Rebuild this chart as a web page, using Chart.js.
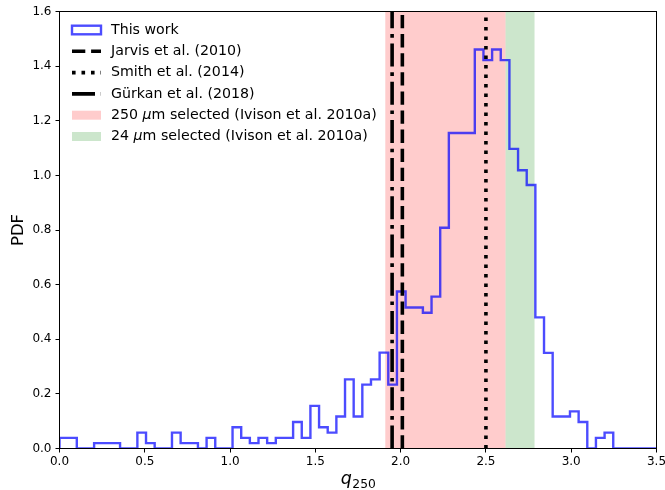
<!DOCTYPE html>
<html>
<head>
<meta charset="utf-8">
<script src="https://cdn.jsdelivr.net/npm/chart.js@4.4.0/dist/chart.umd.min.js"></script>
<style>
html, body { margin: 0; padding: 0; background: #fff; }
</style>
</head>
<body>
<canvas id="myChart" width="665" height="490"></canvas>
<script>
// histogram: 69 bins between 0 and 3.5
var binLo = 0.0, binHi = 3.5, nBins = 69;
var pdf = [0.039, 0.039, 0, 0, 0.0195, 0.0195, 0.0195, 0, 0, 0.058,
           0.0195, 0, 0, 0.058, 0.0195, 0.0195, 0, 0.039, 0, 0,
           0.078, 0.039, 0.0195, 0.039, 0.0195, 0.039, 0.039, 0.097, 0.039, 0.156,
           0.078, 0.058, 0.117, 0.253, 0.117, 0.234, 0.253, 0.351, 0.234, 0.575,
           0.516, 0.516, 0.497, 0.556, 0.808, 1.155, 1.155, 1.155, 1.461, 1.422,
           1.461, 1.422, 1.097, 1.019, 0.965, 0.480, 0.350, 0.117, 0.117, 0.136,
           0.097, 0, 0.039, 0.058, 0, 0, 0, 0, 0];

// literature values of q250
var jarvisQ = 2.01;
var smithQ = 2.50;
var gurkanQ = 1.95;
var span250 = [1.91, 2.615];
var span24 = [2.615, 2.785];

var xTickValues = [0.0, 0.5, 1.0, 1.5, 2.0, 2.5, 3.0, 3.5];
var yTickValues = [0.0, 0.2, 0.4, 0.6, 0.8, 1.0, 1.2, 1.4, 1.6];
var xRange = [0, 3.5];
var yRange = [0, 1.6];

var histColor = 'rgba(0,0,255,0.7)';
var dashed = [13.3, 5.8];
var dotted = [3.6, 5.9];
var dashdot = [23, 5.8, 3.6, 5.8];
var font = 'DejaVu Sans';

// outline of the step histogram
var binWidth = (binHi - binLo) / nBins;
var histPts = [{x: binLo, y: 0}];
for (var i = 0; i < nBins; i++) {
    var e0 = binLo + i * binWidth;
    var e1 = binLo + (i + 1) * binWidth;
    histPts.push({x: e0, y: pdf[i]});
    histPts.push({x: e1, y: pdf[i]});
}
histPts.push({x: binHi, y: 0});

function vline(q) {
    return [{x: q, y: yRange[0]}, {x: q, y: yRange[1]}];
}

var legendItems = [
    {parts: [['This work', '']], kind: 'box'},
    {parts: [['Jarvis et al. (2010)', '']], kind: 'line', dash: dashed},
    {parts: [['Smith et al. (2014)', '']], kind: 'line', dash: dotted},
    {parts: [['Gürkan et al. (2018)', '']], kind: 'line', dash: dashdot},
    {parts: [['250 ', ''], ['\u03bc', 'italic '], ['m selected (Ivison et al. 2010a)', '']], kind: 'patch', color: 'rgba(255,0,0,0.2)'},
    {parts: [['24 ', ''], ['\u03bc', 'italic '], ['m selected (Ivison et al. 2010a)', '']], kind: 'patch', color: 'rgba(0,128,0,0.2)'}
];

var extras = {
    id: 'extras',
    beforeDatasetsDraw: function (chart) {
        var ctx = chart.ctx, a = chart.chartArea, x = chart.scales.x;
        ctx.save();
        ctx.fillStyle = 'rgba(255,0,0,0.2)';
        var p0 = x.getPixelForValue(span250[0]), p1 = x.getPixelForValue(span250[1]);
        ctx.fillRect(p0, a.top, p1 - p0, a.bottom - a.top);
        ctx.fillStyle = 'rgba(0,128,0,0.2)';
        p0 = x.getPixelForValue(span24[0]); p1 = x.getPixelForValue(span24[1]);
        ctx.fillRect(p0, a.top, p1 - p0, a.bottom - a.top);
        ctx.restore();
    },
    afterDraw: function (chart) {
        var ctx = chart.ctx, a = chart.chartArea;
        ctx.save();
        // frame
        ctx.strokeStyle = '#000';
        ctx.lineWidth = 1;
        ctx.strokeRect(a.left, a.top, a.right - a.left, a.bottom - a.top);

        // axis titles
        ctx.fillStyle = '#000';
        ctx.textBaseline = 'alphabetic';
        ctx.font = 'italic 17.5px "' + font + '"';
        var qw = ctx.measureText('q').width;
        ctx.font = '12.3px "' + font + '"';
        var sw = ctx.measureText('250').width;
        var cx = (a.left + a.right) / 2;
        var sx = cx - (qw + sw) / 2;
        ctx.font = 'italic 17.5px "' + font + '"';
        ctx.textAlign = 'left';
        ctx.fillText('q', sx, 484);
        ctx.font = '12.3px "' + font + '"';
        ctx.fillText('250', sx + qw + 0.5, 487.5);

        ctx.save();
        ctx.translate(19, (a.top + a.bottom) / 2);
        ctx.rotate(-Math.PI / 2);
        ctx.textAlign = 'center';
        ctx.textBaseline = 'middle';
        ctx.font = '16.5px "' + font + '"';
        ctx.fillText('PDF', 0, 0);
        ctx.restore();

        // legend
        var hx = 72, hw = 29, tx = 111, y0 = 30, dy = 21.3;
        legendItems.forEach(function (it, i) {
            var y = y0 + i * dy;
            if (it.kind == 'box') {
                ctx.strokeStyle = histColor;
                ctx.lineWidth = 2.4;
                ctx.strokeRect(hx, y - 4.3, hw, 8.6);
            } else if (it.kind == 'patch') {
                ctx.fillStyle = it.color;
                ctx.fillRect(hx, y - 4.5, hw, 9);
            } else {
                ctx.strokeStyle = '#000';
                ctx.lineWidth = 3.6;
                ctx.setLineDash(it.dash);
                ctx.beginPath();
                ctx.moveTo(hx, y);
                ctx.lineTo(hx + hw, y);
                ctx.stroke();
                ctx.setLineDash([]);
            }
            ctx.fillStyle = '#000';
            ctx.textAlign = 'left';
            ctx.textBaseline = 'middle';
            var px = tx;
            it.parts.forEach(function (p) {
                ctx.font = p[1] + '14.2px "' + font + '"';
                ctx.fillText(p[0], px, y);
                px += ctx.measureText(p[0]).width;
            });
        });
        ctx.restore();
    }
};

var myChart = document.getElementById('myChart');
new Chart(myChart, {
    type: 'line',
    data: {
        datasets: [{
            label: 'Jarvis et al. (2010)',
            data: vline(jarvisQ),
            borderColor: '#000',
            borderWidth: 3.6,
            borderDash: dashed,
            pointRadius: 0,
            order: 0
        }, {
            label: 'Smith et al. (2014)',
            data: vline(smithQ),
            borderColor: '#000',
            borderWidth: 3.6,
            borderDash: dotted,
            pointRadius: 0,
            order: 0
        }, {
            label: 'Gürkan et al. (2018)',
            data: vline(gurkanQ),
            borderColor: '#000',
            borderWidth: 3.6,
            borderDash: dashdot,
            pointRadius: 0,
            order: 0
        }, {
            label: 'This work',
            data: histPts,
            borderColor: histColor,
            borderWidth: 2.4,
            pointRadius: 0,
            tension: 0,
            fill: false,
            order: 1
        }]
    },
    options: {
        responsive: false,
        animation: false,
        devicePixelRatio: 1,
        layout: {padding: {top: 11.5, right: 8.5, left: 0, bottom: 0}},
        plugins: {legend: {display: false}, tooltip: {enabled: false}},
        scales: {
            x: {
                type: 'linear',
                min: xRange[0],
                max: xRange[1],
                afterFit: function (s) {
                    s.height = 41.5;
                    s.paddingLeft = 0;
                    s.paddingRight = 0;
                },
                afterBuildTicks: function (s) { s.ticks = xTickValues.map(function (v) { return {value: v}; }); },
                ticks: {
                    color: '#000',
                    font: {family: font, size: 12},
                    padding: 2,
                    maxRotation: 0,
                    callback: function (v) { return v.toFixed(1); }
                },
                grid: {drawOnChartArea: false, tickLength: 4, tickColor: '#000'},
                border: {color: '#000'}
            },
            y: {
                type: 'linear',
                min: yRange[0],
                max: yRange[1],
                afterFit: function (s) {
                    s.width = 59.5;
                    s.paddingTop = 0;
                    s.paddingBottom = 0;
                },
                afterBuildTicks: function (s) { s.ticks = yTickValues.map(function (v) { return {value: v}; }); },
                ticks: {
                    color: '#000',
                    font: {family: font, size: 12},
                    padding: 4,
                    callback: function (v) { return v.toFixed(1); }
                },
                grid: {drawOnChartArea: false, tickLength: 4, tickColor: '#000'},
                border: {color: '#000'}
            }
        }
    },
    plugins: [extras]
});
</script>
</body>
</html>
